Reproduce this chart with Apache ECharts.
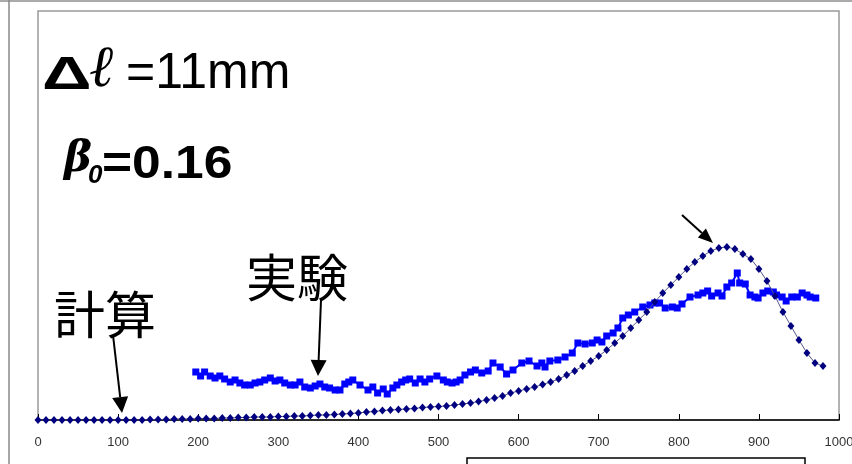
<!DOCTYPE html>
<html>
<head>
<meta charset="utf-8">
<script src="https://cdn.jsdelivr.net/npm/echarts@6/dist/echarts.min.js"></script>
<style>
  html, body { margin: 0; padding: 0; background: #fff; }
  #runChart { width: 852px; height: 464px; }
</style>
</head>
<body>
<div id="runChart"></div>
<script>
// 計算 (calculation), every 10 on x
let calcX = [0, 10, 20, 30, 40, 50, 60, 70, 80, 90, 100, 110, 120, 130, 140, 150, 160, 170, 180, 190,
  200, 210, 220, 230, 240, 250, 260, 270, 280, 290, 300, 310, 320, 330, 340, 350, 360, 370, 380, 390,
  400, 410, 420, 430, 440, 450, 460, 470, 480, 490, 500, 510, 520, 530, 540, 550, 560, 570, 580, 590,
  600, 610, 620, 630, 640, 650, 660, 670, 680, 690, 700, 710, 720, 730, 740, 750, 760, 770, 780, 790,
  800, 810, 820, 830, 840, 850, 860, 870, 880, 890, 900, 910, 920, 930, 940, 950, 960, 970, 980];
let calcY = [0, 0, 0, 0, 0, 0, 0, 0, 0, 0, 0, 0, 0, 0, 0.5, 0.5, 0.5, 1, 1, 1,
  1.5, 1.5, 1.5, 2, 2, 2.5, 2.5, 3, 3, 3, 3.5, 3.5, 4, 4, 4.5, 5, 5, 5.5, 6, 6.5,
  7, 8, 8.5, 9.5, 10, 10.5, 11, 11.5, 12.5, 13, 13.5, 14, 15, 16, 17, 18.5, 20, 22, 24, 27,
  29, 31, 33, 35.5, 38, 41, 45, 49, 54, 59, 64, 70, 77, 84, 92, 100, 108, 118, 127, 135,
  143, 151, 158, 164, 169, 172, 173, 171, 166, 161, 151, 139, 124, 108, 94, 80, 67, 57, 54];

// 実験 (experiment)
let expX = [197, 203, 208, 215, 221, 227, 233, 240, 246, 252, 258, 265, 271, 277, 283, 290, 296, 302, 308, 315,
  321, 327, 333, 340, 346, 352, 358, 364, 371, 377, 383, 388, 393, 402, 412, 418, 424, 431, 436, 443,
  448, 454, 459, 464, 471, 477, 483, 489, 498, 506, 511, 517, 522, 527, 533, 540, 546, 554, 562, 568,
  577, 585, 593, 604, 613, 623, 629, 633, 639, 649, 658, 667, 674, 683, 692, 698, 704, 710, 718, 724,
  730, 737, 745, 755, 764, 770, 776, 783, 792, 798, 804, 814, 824, 830, 836, 841, 849, 854, 860, 866,
  873, 876, 883, 889, 895, 899, 905, 911, 918, 922, 929, 934, 941, 948, 954, 960, 964, 971];
let expY = [48, 44, 48, 44, 42, 44, 41, 38, 40, 37, 35, 35, 37, 38, 40, 42, 39, 40, 37, 35,
  35, 38, 33, 32, 34, 36, 33, 32, 30, 30, 36, 38, 40, 35, 30, 33, 27, 31, 26, 32,
  35, 38, 40, 41, 37, 41, 38, 41, 44, 40, 38, 37, 38, 40, 45, 48, 50, 47, 49, 57,
  53, 46, 50, 57, 59, 54, 57, 53, 59, 60, 63, 67, 77, 76, 77, 80, 78, 84, 87, 92,
  102, 105, 108, 113, 115, 117, 117, 112, 113, 112, 116, 123, 125, 127, 129, 124, 127, 124, 133, 137,
  147, 137, 136, 125, 123, 122, 127, 129, 128, 125, 123, 119, 123, 123, 127, 125, 123, 122];

let xTicks = [0, 100, 200, 300, 400, 500, 600, 700, 800, 900, 1000];

function pairs(xs, ys) {
  return xs.map(function (x, i) { return [x, ys[i]]; });
}

function arrow(x1, y1, x2, y2, len, half) {
  let a = Math.atan2(y2 - y1, x2 - x1);
  let bx = x2 - len * Math.cos(a), by = y2 - len * Math.sin(a);
  let px = -Math.sin(a) * half, py = Math.cos(a) * half;
  return [
    { type: "line", shape: { x1: x1, y1: y1, x2: bx, y2: by }, style: { stroke: "#000", lineWidth: 2 } },
    { type: "polygon", shape: { points: [[x2, y2], [bx + px, by + py], [bx - px, by - py]] }, style: { fill: "#000" } }
  ];
}

let latin = "'Liberation Sans', Arial, sans-serif";
let cjk = "'Noto Sans CJK JP', sans-serif";

let graphics = [
  { type: "line", shape: { x1: 0, y1: 1, x2: 852, y2: 1 }, style: { stroke: "#aaa", lineWidth: 2 } },
  { type: "line", shape: { x1: 9, y1: 0, x2: 9, y2: 464 }, style: { stroke: "#888", lineWidth: 1.5 } },
  { type: "rect", shape: { x: 467, y: 458, width: 338, height: 20 }, style: { fill: "#fff", stroke: "#000", lineWidth: 1.5 } },
  { type: "text", x: 42, y: 76, scaleX: 1.5, style: { text: "Δ", font: "bold 46px " + latin, fill: "#000", verticalAlign: "middle" } },
  { type: "text", x: 89, y: 71, style: { text: "ℓ", font: "italic 58px 'DejaVu Serif'", fill: "#000", verticalAlign: "middle" } },
  { type: "text", x: 126, y: 74, style: { text: "=11mm", font: "50px " + latin, fill: "#000", verticalAlign: "middle" } },
  { type: "text", x: 64, y: 160, style: { text: "β", font: "bold italic 42px 'DejaVu Serif'", fill: "#000", verticalAlign: "middle" } },
  { type: "text", x: 88, y: 176, style: { text: "0", font: "bold italic 26px " + latin, fill: "#000", verticalAlign: "middle" } },
  { type: "text", x: 102, y: 165, scaleX: 1.12, style: { text: "=0.16", font: "bold 46px " + latin, fill: "#000", verticalAlign: "middle" } },
  { type: "text", x: 246, y: 278, style: { text: "実験", font: "51px " + cjk, fill: "#000", verticalAlign: "middle" } },
  { type: "text", x: 54, y: 315, style: { text: "計算", font: "51px " + cjk, fill: "#000", verticalAlign: "middle" } }
];
graphics = graphics.concat(
  arrow(113, 335, 122, 413, 16, 8),
  arrow(321, 300, 318, 376, 16, 8),
  arrow(682, 215, 713, 243, 15, 6)
);

let option = {
  animation: false,
  grid: {
    left: 38,
    right: 13,
    top: 11,
    bottom: 44,
    outerBoundsMode: "none",
    containLabel: false,
    show: true,
    borderColor: "#999",
    borderWidth: 1.5
  },
  xAxis: {
    type: "value",
    min: 0,
    max: 1000,
    interval: 100,
    axisLine: { show: true, lineStyle: { color: "#000", width: 1.5 } },
    axisTick: { show: true, inside: true, length: 6, lineStyle: { color: "#000" } },
    axisLabel: {
      margin: 16,
      fontSize: 13,
      color: "#333",
      fontFamily: "Liberation Sans",
      showMaxLabel: true,
      formatter: function (v) { return xTicks.indexOf(v) >= 0 ? String(v) : ""; }
    },
    splitLine: { show: false }
  },
  yAxis: {
    type: "value",
    min: 0,
    max: 409,
    show: false,
    splitLine: { show: false }
  },
  series: [
    {
      name: "計算",
      type: "line",
      data: pairs(calcX, calcY),
      symbol: "diamond",
      symbolSize: [7, 8],
      itemStyle: { color: "#000080" },
      lineStyle: { color: "#55558a", width: 1 },
      z: 3
    },
    {
      name: "実験",
      type: "line",
      data: pairs(expX, expY),
      symbol: "rect",
      symbolSize: 7,
      itemStyle: { color: "#0000ff" },
      lineStyle: { color: "#0000ff", width: 2 },
      z: 2
    }
  ],
  graphic: graphics
};

var myChart = echarts.init(document.getElementById("runChart"));
myChart.setOption(option);
</script>
</body>
</html>
